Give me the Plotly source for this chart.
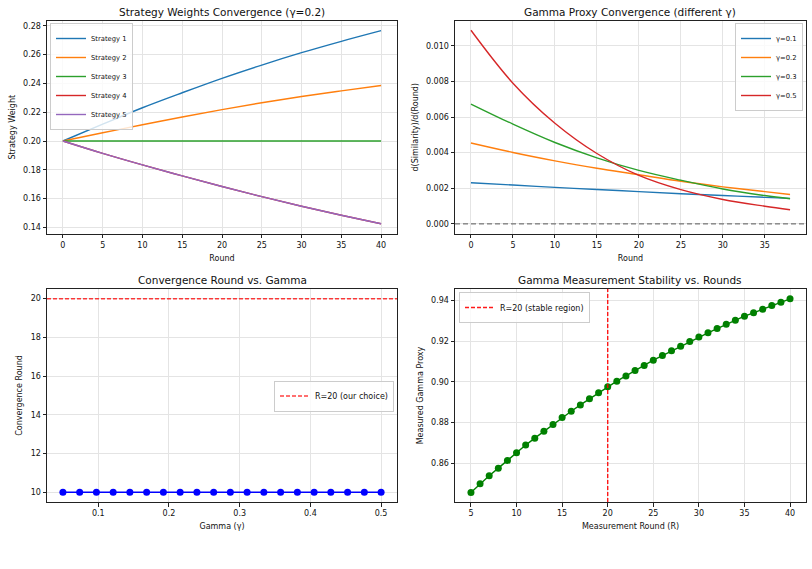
import plotly.graph_objects as go

# ---------------- data ----------------
# Panel 1: strategy weights (gamma = 0.2)
rounds_w = [0, 5, 10, 15, 20, 25, 30, 35, 40]
strategy_1 = [0.2000, 0.2117, 0.2231, 0.2335, 0.2435, 0.2527, 0.2613, 0.2692, 0.2766]
strategy_2 = [0.2000, 0.2057, 0.2113, 0.2167, 0.2218, 0.2266, 0.2309, 0.2348, 0.2385]
strategy_3 = [0.2000, 0.2000, 0.2000, 0.2000, 0.2000, 0.2000, 0.2000, 0.2000, 0.2000]
strategy_4 = [0.2000, 0.1914, 0.1834, 0.1758, 0.1684, 0.1614, 0.1547, 0.1485, 0.1426]
strategy_5 = [0.2000, 0.1914, 0.1834, 0.1758, 0.1684, 0.1614, 0.1547, 0.1485, 0.1426]
strategy_names = ["Strategy 1", "Strategy 2", "Strategy 3", "Strategy 4", "Strategy 5"]

# Panel 2: gamma proxy derivative
rounds_d = [0, 5, 10, 15, 20, 25, 30, 35, 38]
deriv_g01 = [0.00231, 0.00218, 0.00205, 0.00193, 0.00181, 0.00169, 0.00159, 0.00149, 0.00143]
deriv_g02 = [0.00454, 0.00401, 0.00354, 0.00312, 0.00276, 0.00239, 0.00208, 0.00181, 0.00165]
deriv_g03 = [0.00673, 0.00560, 0.00457, 0.00371, 0.00300, 0.00245, 0.00196, 0.00159, 0.00141]
deriv_g05 = [0.01087, 0.00790, 0.00565, 0.00395, 0.00272, 0.00192, 0.00137, 0.00099, 0.00079]
gamma_names = ["γ=0.1", "γ=0.2", "γ=0.3", "γ=0.5"]
zero_level = 0.0

# Panel 3: convergence round vs gamma
gammas = [0.0500, 0.0737, 0.0974, 0.1211, 0.1447, 0.1684, 0.1921, 0.2158, 0.2395, 0.2632,
          0.2868, 0.3105, 0.3342, 0.3579, 0.3816, 0.4053, 0.4289, 0.4526, 0.4763, 0.5000]
conv_rounds = [10, 10, 10, 10, 10, 10, 10, 10, 10, 10,
               10, 10, 10, 10, 10, 10, 10, 10, 10, 10]
chosen_R = 20

# Panel 4: measured gamma proxy vs measurement round
meas_rounds = list(range(5, 41))
meas_gamma = [0.8458, 0.8500, 0.8540, 0.8577, 0.8615, 0.8652, 0.8690, 0.8724, 0.8758, 0.8791,
              0.8825, 0.8856, 0.8887, 0.8917, 0.8946, 0.8976, 0.9003, 0.9029, 0.9056, 0.9080,
              0.9106, 0.9129, 0.9152, 0.9175, 0.9198, 0.9220, 0.9240, 0.9261, 0.9282, 0.9302,
              0.9322, 0.9338, 0.9356, 0.9374, 0.9390, 0.9407]
stable_R = 20

# ---------------- style ----------------
W, H = 812, 569
FONT = "DejaVu Sans"
tab10 = ["#1f77b4", "#ff7f0e", "#2ca02c", "#d62728", "#9467bd"]

def px_x(a, b):
    return [a / W, b / W]

def px_y(top, bottom):
    return [1 - bottom / H, 1 - top / H]

dom = {
    1: (px_x(47, 397), px_y(21, 233.5)),
    2: (px_x(455, 806), px_y(21, 233.5)),
    3: (px_x(47, 397), px_y(289, 502)),
    4: (px_x(455, 806), px_y(289, 502)),
}

fig = go.Figure()

# Panel 1
for name, ys, c in zip(strategy_names, [strategy_1, strategy_2, strategy_3, strategy_4, strategy_5], tab10):
    fig.add_trace(go.Scatter(x=rounds_w, y=ys, mode="lines", name=name,
                             line=dict(color=c, width=1.4, shape="spline"),
                             xaxis="x", yaxis="y", legend="legend"))

# Panel 2
for name, ys, c in zip(gamma_names, [deriv_g01, deriv_g02, deriv_g03, deriv_g05], tab10[:4]):
    fig.add_trace(go.Scatter(x=rounds_d, y=ys, mode="lines", name=name,
                             line=dict(color=c, width=1.4, shape="spline"),
                             xaxis="x2", yaxis="y2", legend="legend2"))
fig.add_shape(type="line", xref="x2 domain", x0=0, x1=1, yref="y2", y0=zero_level, y1=zero_level,
              line=dict(color="rgba(0,0,0,0.5)", width=1.3, dash="5px,3px"), layer="above")

# Panel 3
fig.add_trace(go.Scatter(x=gammas, y=conv_rounds, mode="lines+markers", showlegend=False,
                         line=dict(color="blue", width=1.4),
                         marker=dict(color="blue", size=7),
                         xaxis="x3", yaxis="y3"))
fig.add_shape(type="line", xref="x3 domain", x0=0, x1=1, yref="y3", y0=chosen_R, y1=chosen_R,
              line=dict(color="rgba(255,0,0,0.75)", width=1.6, dash="4px,2px"),
              showlegend=True, name="R=20 (our choice)", legend="legend3")

# Panel 4
fig.add_trace(go.Scatter(x=meas_rounds, y=meas_gamma, mode="lines+markers", showlegend=False,
                         line=dict(color="green", width=1.4),
                         marker=dict(color="green", size=7),
                         xaxis="x4", yaxis="y4"))
fig.add_shape(type="line", yref="y4 domain", y0=0, y1=1, xref="x4", x0=stable_R, x1=stable_R,
              line=dict(color="rgba(255,0,0,0.9)", width=1.4, dash="4px,2px"),
              showlegend=True, name="R=20 (stable region)", legend="legend4")

axis_common = dict(showline=True, mirror=True, linecolor="#222", linewidth=1,
                   ticks="outside", ticklen=3.5, tickwidth=0.8, tickcolor="#222",
                   showgrid=True, gridcolor="#e4e4e4", gridwidth=0.8, zeroline=False,
                   tickfont=dict(family=FONT, size=8, color="#111"), automargin=False)

def xaxis(n, title, rng, dtick, fmt, tick0=0):
    return dict(axis_common, domain=dom[n][0], anchor=("y" if n == 1 else f"y{n}"),
                range=rng, dtick=dtick, tick0=tick0, tickformat=fmt,
                title=dict(text=title, font=dict(family=FONT, size=8, color="#111"), standoff=6))

def yaxis(n, title, rng, dtick, fmt, tick0=0):
    return dict(axis_common, domain=dom[n][1], anchor=("x" if n == 1 else f"x{n}"),
                range=rng, dtick=dtick, tick0=tick0, tickformat=fmt,
                title=dict(text=title, font=dict(family=FONT, size=8, color="#111"), standoff=6))

legend_common = dict(bgcolor="rgba(255,255,255,0.8)", bordercolor="#cccccc", borderwidth=1,
                     itemwidth=30, tracegroupgap=0)

fig.update_layout(
    width=W, height=H,
    margin=dict(l=0, r=0, t=0, b=0),
    paper_bgcolor="white", plot_bgcolor="white",
    font=dict(family=FONT, color="#111"),
    xaxis=xaxis(1, "Round", [-2, 42], 5, "d"),
    yaxis=yaxis(1, "Strategy Weight", [0.1358, 0.2833], 0.02, ".2f"),
    xaxis2=xaxis(2, "Round", [-1.9, 39.9], 5, "d"),
    yaxis2=yaxis(2, "d(Similarity)/d(Round)", [-0.00054, 0.01139], 0.002, ".3f"),
    xaxis3=xaxis(3, "Gamma (γ)", [0.0275, 0.5225], 0.1, ".1f"),
    yaxis3=yaxis(3, "Convergence Round", [9.5, 20.5], 2, "d"),
    xaxis4=xaxis(4, "Measurement Round (R)", [3.25, 41.75], 5, "d"),
    yaxis4=yaxis(4, "Measured Gamma Proxy", [0.8411, 0.9455], 0.02, ".2f"),
    legend=dict(legend_common, x=50 / W, y=1 - 23 / H, xanchor="left", yanchor="top",
                font=dict(family=FONT, size=6.8, color="#111")),
    legend2=dict(legend_common, x=803 / W, y=1 - 23 / H, xanchor="right", yanchor="top",
                 font=dict(family=FONT, size=6.8, color="#111")),
    legend3=dict(legend_common, x=394 / W, y=1 - 396 / H, xanchor="right", yanchor="middle",
                 font=dict(family=FONT, size=8, color="#111")),
    legend4=dict(legend_common, x=459 / W, y=1 - 292 / H, xanchor="left", yanchor="top",
                 font=dict(family=FONT, size=8, color="#111")),
)

titles = {
    1: "Strategy Weights Convergence (γ=0.2)",
    2: "Gamma Proxy Convergence (different γ)",
    3: "Convergence Round vs. Gamma",
    4: "Gamma Measurement Stability vs. Rounds",
}
for n, t in titles.items():
    xd, yd = dom[n]
    fig.add_annotation(text=t, xref="paper", yref="paper", x=(xd[0] + xd[1]) / 2, y=yd[1],
                       xanchor="center", yanchor="bottom", yshift=1, showarrow=False,
                       font=dict(family=FONT, size=10.5, color="#111"))

fig.write_html("out.html")
